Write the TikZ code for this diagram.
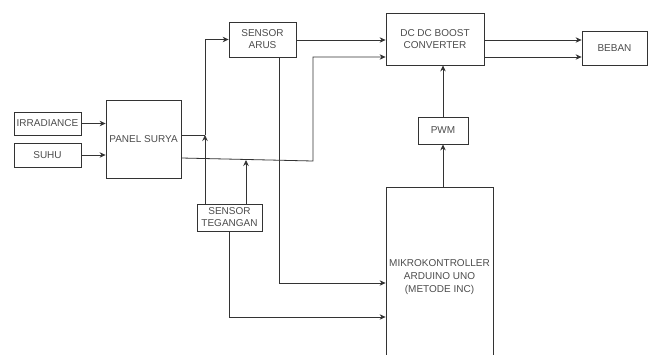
\documentclass[tikz,border=0pt]{standalone}
\usepackage{fontspec}
\setmainfont{Liberation Sans}
\usetikzlibrary{arrows.meta}
\begin{document}
\begin{tikzpicture}[x=1pt, y=-1pt,
  blok/.style={draw=black!80, line width=0.8pt, rectangle, inner sep=0pt, align=center,
    text=black!70, font=\fontsize{10}{12}\selectfont},
  garis/.style={draw=black!80, line width=0.8pt},
  panah/.style={garis, -{Stealth[length=6pt,width=5.5pt]}}]
\clip (0,0) rectangle (648,354);
% blok
\node[blok, minimum width=67pt, minimum height=23pt] (irr) at (47.5,123.5) {IRRADIANCE};
\node[blok, minimum width=67pt, minimum height=24pt] (suhu) at (47.5,155) {SUHU};
\node[blok, minimum width=75pt, minimum height=78pt] (panel) at (143.5,139) {PANEL SURYA};
\node[blok, minimum width=67pt, minimum height=35pt] (arus) at (262.5,39.5) {SENSOR\\ARUS};
\node[blok, minimum width=65pt, minimum height=27pt] (teg) at (229.5,217.5) {SENSOR\\TEGANGAN};
\node[blok, minimum width=98pt, minimum height=52pt] (dcdc) at (435,39) {DC DC BOOST\\CONVERTER};
\node[blok, minimum width=65pt, minimum height=34pt] (beban) at (614.5,48) {BEBAN};
\node[blok, minimum width=50pt, minimum height=27pt] (pwm) at (443,130.5) {PWM};
\node[blok, minimum width=107pt, minimum height=180pt, font=\fontsize{10}{13}\selectfont]
  (mikro) at (439.5,277) {MIKROKONTROLLER\\ARDUINO UNO\\(METODE INC)};
% titik sambung
\coordinate (j1) at (205,135);
\coordinate (j2) at (313,161);
\coordinate (j3) at (246,160);
% panah
\draw[panah] (irr.east) -- (panel.west |- irr.east);
\draw[panah] (suhu.east) -- (panel.west |- suhu.east);
\draw[garis] (panel.east |- j1) -- (j1);
\draw[panah] (teg.north -| j1) -- (j1);
\draw[panah] (j1) |- (arus.west);
\draw[panah] (arus.east |- 0,40) -- (dcdc.west |- 0,40);
\draw[panah] (panel.east |- 0,158) -- (j2) |- (dcdc.west |- 0,57);
\draw[panah] (teg.north -| j3) -- (j3);
\draw[panah] (arus.south -| 279,0) |- (mikro.west |- 0,283);
\draw[panah] (teg.south -| 229,0) |- (mikro.west |- 0,317);
\draw[panah] (pwm.south |- mikro.north) -- (pwm.south);
\draw[panah] (pwm.north) -- (pwm.north |- dcdc.south);
\draw[panah] (dcdc.east |- 0,40) -- (beban.west |- 0,40);
\draw[panah] (dcdc.east |- 0,57) -- (beban.west |- 0,57);
\end{tikzpicture}
\end{document}
